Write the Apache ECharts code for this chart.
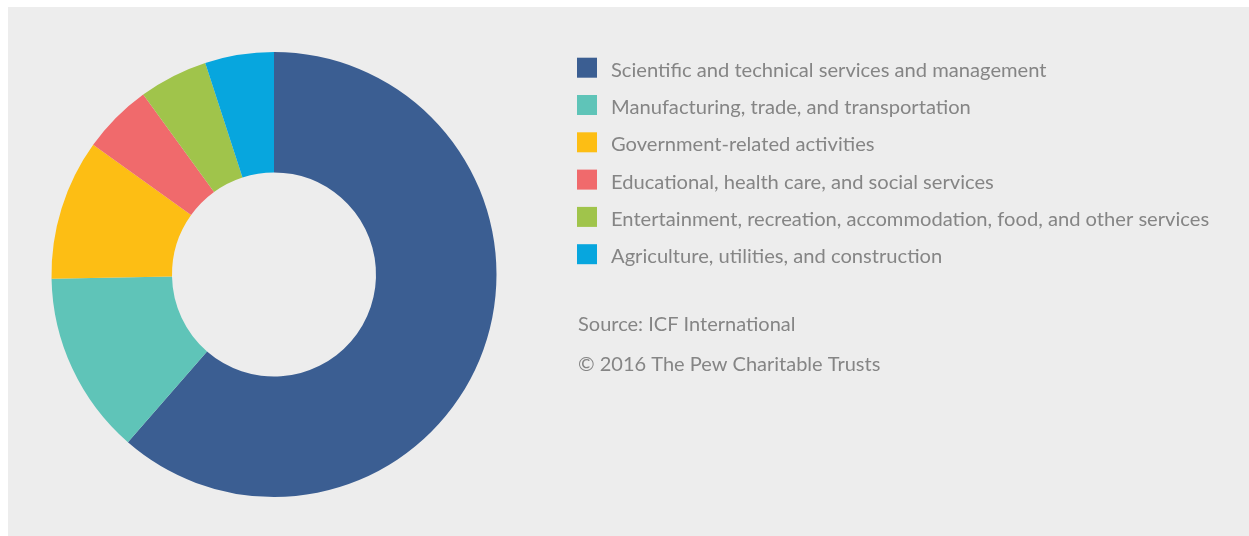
<!DOCTYPE html>
<html>
<head>
<meta charset="utf-8">
<script src="https://cdn.jsdelivr.net/npm/echarts@6/dist/echarts.min.js"></script>
<style>
html,body{margin:0;padding:0;background:#ffffff;}
#chart{width:1249px;height:536px;}
</style>
</head>
<body>
<div id="chart"></div>
<script>
const categories = [
  'Scientific and technical services and management',
  'Manufacturing, trade, and transportation',
  'Government-related activities',
  'Educational, health care, and social services',
  'Entertainment, recreation, accommodation, food, and other services',
  'Agriculture, utilities, and construction'
];
const shares = [61.4, 13.3, 10.2, 5.1, 5.0, 5.0];
const palette = ['#3b5e92', '#5fc4b8', '#fdbe14', '#f06a6c', '#a0c44b', '#07a6de'];
const sourceLine = 'Source: ICF International';
const creditLine = '\u00a9 2016 The Pew Charitable Trusts';

const FONT = 'Lato, "Noto Sans", sans-serif';
const TEXT_COLOR = '#858585';
const chart = echarts.init(document.getElementById('chart'), null, {renderer: 'canvas'});
chart.setOption({
  backgroundColor: '#ffffff',
  animation: false,
  color: palette,
  graphic: [
    {type: 'rect', z: -10, shape: {x: 8, y: 7, width: 1241, height: 529}, style: {fill: '#ededed'}},
    {type: 'text', x: 578, y: 325, style: {text: sourceLine, fill: TEXT_COLOR, font: '20px ' + FONT, verticalAlign: 'middle'}},
    {type: 'text', x: 578, y: 364.5, style: {text: creditLine, fill: TEXT_COLOR, font: '20px ' + FONT, verticalAlign: 'middle'}}
  ],
  legend: {
    orient: 'vertical',
    left: 577,
    top: 57.7,
    padding: 0,
    itemWidth: 20,
    itemHeight: 20,
    itemGap: 14.8,
    icon: 'rect',
    selectedMode: false,
    data: categories,
    formatter: name => '{t|' + name + '}',
    textStyle: {
      color: TEXT_COLOR, fontSize: 20, fontFamily: FONT, padding: [0, 0, 0, 9],
      rich: {t: {color: TEXT_COLOR, fontSize: 20.15, fontFamily: FONT, padding: [5, 0, 0, 0]}}
    }
  },
  series: [{
    type: 'pie',
    center: [274, 274.5],
    radius: [102, 222.5],
    startAngle: 90,
    clockwise: true,
    avoidLabelOverlap: false,
    label: {show: false},
    labelLine: {show: false},
    emphasis: {disabled: true},
    itemStyle: {borderWidth: 0},
    data: categories.map((c, i) => ({name: c, value: shares[i]}))
  }]
});
</script>
</body>
</html>
